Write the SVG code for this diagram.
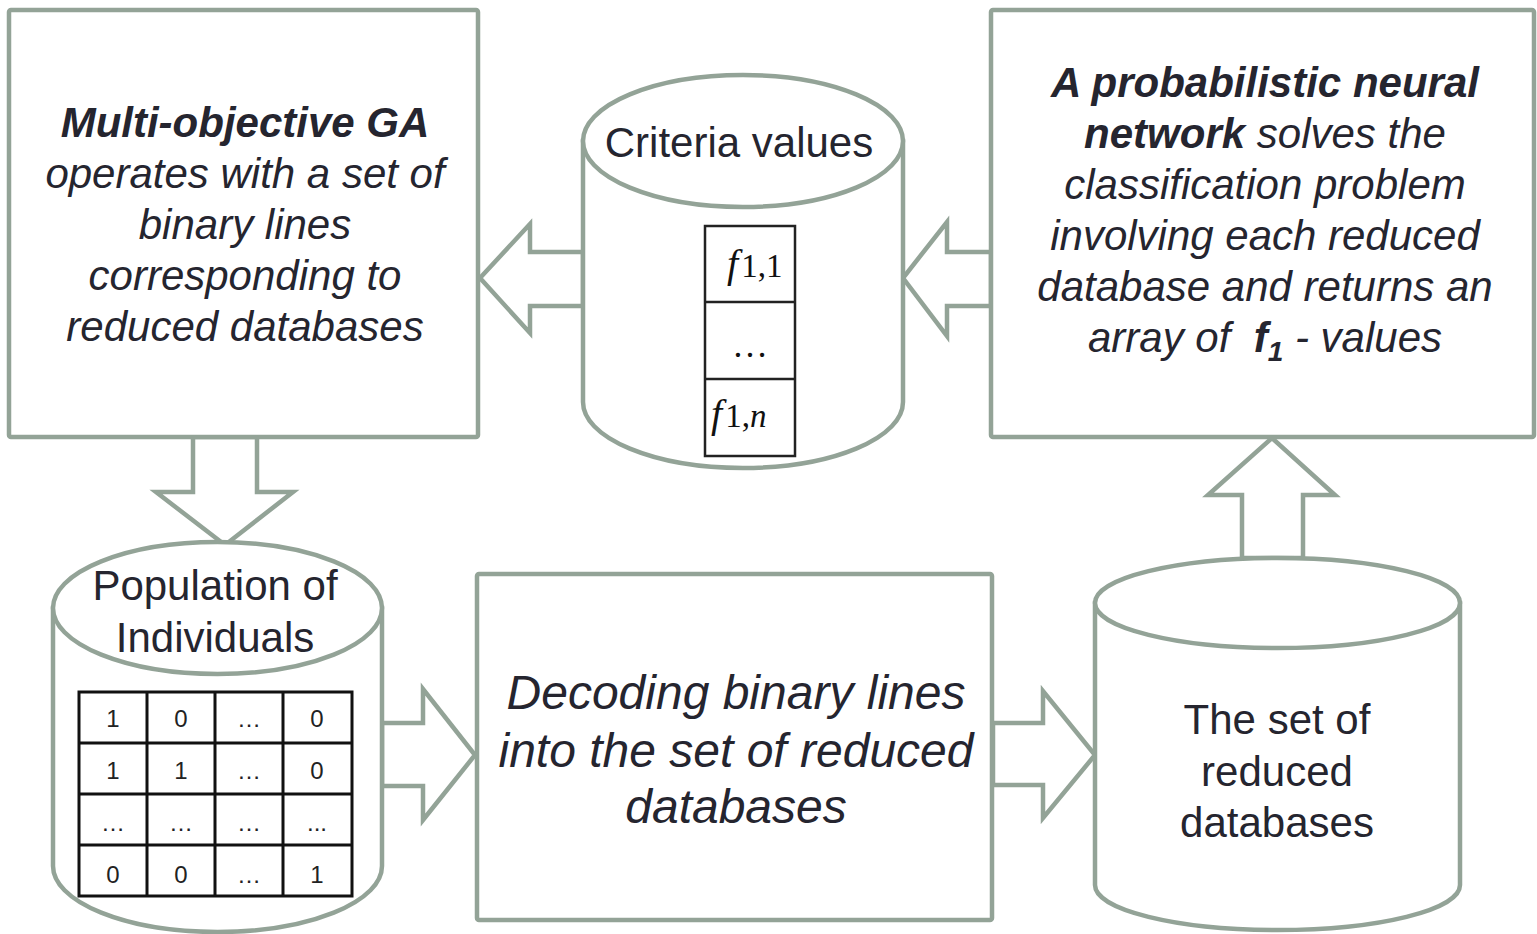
<svg xmlns="http://www.w3.org/2000/svg" width="1537" height="934" viewBox="0 0 1537 934">
<style>
.sh{fill:#fff;stroke:#93a397;stroke-width:4.5;stroke-linejoin:miter}
.t{font-family:"Liberation Sans",Arial,sans-serif;fill:#25252f;text-anchor:middle}
.i{font-style:italic}
.b{font-weight:bold}
.f42{font-size:42px}
.f48{font-size:48px}
.grid{fill:none;stroke:#111;stroke-width:3}
.cell{font-family:"Liberation Sans",Arial,sans-serif;font-size:24px;fill:#222;text-anchor:middle}
.m{font-family:"Liberation Serif","Times New Roman",serif;fill:#111}
</style>
<rect width="1537" height="934" fill="#fff"/>

<g id="connectors">
  <polygon class="sh" points="583,252 530,252 530,224 480,278 530,333 530,306 583,306"/>
  <polygon class="sh" points="991,252 947,252 947,222 903,278 947,336 947,306 991,306"/>
  <polygon class="sh" points="193,437 257,437 257,492 293,492 225,545 156,492 193,492"/>
  <polygon class="sh" points="382,723 423,723 423,689 475,755 423,820 423,786 382,786"/>
  <polygon class="sh" points="993,723 1043,723 1043,691 1095,755 1043,818 1043,785 993,785"/>
  <polygon class="sh" points="1242,558 1242,495 1208,495 1272,438 1335,495 1303,495 1303,558"/>
</g>

<g id="ga">
  <rect class="sh" x="9" y="10" width="469" height="427" rx="2"/>
  <text class="t i b f42" x="245" y="137">Multi-objective GA</text>
  <text class="t i f42" x="245" y="188">operates with a set of</text>
  <text class="t i f42" x="245" y="239">binary lines</text>
  <text class="t i f42" x="245" y="290">corresponding to</text>
  <text class="t i f42" x="245" y="341">reduced databases</text>
</g>

<g id="criteria">
  <path class="sh" d="M583,141 L583,402 A160,66 0 0 0 903,402 L903,141 Z"/>
  <ellipse class="sh" cx="743" cy="141" rx="160" ry="66"/>
  <text class="t f42" x="739" y="157">Criteria values</text>
  <rect x="705" y="226" width="90" height="230" fill="#fff" stroke="#222" stroke-width="2.5"/>
  <line x1="705" y1="302" x2="795" y2="302" stroke="#222" stroke-width="2.5"/>
  <line x1="705" y1="379" x2="795" y2="379" stroke="#222" stroke-width="2.5"/>
  <text class="m" x="727" y="277"><tspan font-style="italic" font-size="40">f</tspan><tspan font-size="33" dx="3">1,1</tspan></text>
  <text class="m" x="750" y="357" font-size="36" text-anchor="middle">…</text>
  <text class="m" x="711" y="427"><tspan font-style="italic" font-size="40">f</tspan><tspan font-size="33" dx="3">1,</tspan><tspan font-size="33" font-style="italic">n</tspan></text>
</g>

<g id="pnn">
  <rect class="sh" x="991" y="10" width="543" height="427" rx="2"/>
  <text class="t i b f42" x="1265" y="97">A probabilistic neural</text>
  <text class="t i f42" x="1265" y="148"><tspan class="b">network</tspan> solves the</text>
  <text class="t i f42" x="1265" y="199">classification problem</text>
  <text class="t i f42" x="1265" y="250">involving each reduced</text>
  <text class="t i f42" x="1265" y="301">database and returns an</text>
  <text class="t i f42" x="1265" y="352">array of &#160;<tspan class="b">f</tspan><tspan class="b" font-size="28" dy="9">1</tspan><tspan dy="-9"> - values</tspan></text>
</g>

<g id="population">
  <path class="sh" d="M53,608 L53,866 A164.5,66 0 0 0 382,866 L382,608 Z"/>
  <ellipse class="sh" cx="217.5" cy="608" rx="164.5" ry="66"/>
  <text class="t f42" x="215" y="600">Population of</text>
  <text class="t f42" x="215" y="652">Individuals</text>
  <rect x="79" y="692" width="273" height="204" fill="#fff"/>
  <path class="grid" d="M79,692H352V896H79Z M79,743H352 M79,794H352 M79,845H352 M147,692V896 M215,692V896 M283,692V896"/>
  <g class="cell">
    <text x="113" y="727">1</text><text x="181" y="727">0</text><text x="249" y="727">…</text><text x="317" y="727">0</text>
    <text x="113" y="779">1</text><text x="181" y="779">1</text><text x="249" y="779">…</text><text x="317" y="779">0</text>
    <text x="113" y="831">…</text><text x="181" y="831">…</text><text x="249" y="831">…</text><text x="317" y="831">...</text>
    <text x="113" y="883">0</text><text x="181" y="883">0</text><text x="249" y="883">…</text><text x="317" y="883">1</text>
  </g>
</g>

<g id="decoding">
  <rect class="sh" x="477" y="574" width="515" height="346" rx="2"/>
  <text class="t i f48" x="736" y="709">Decoding binary lines</text>
  <text class="t i f48" x="736" y="767">into the set of reduced</text>
  <text class="t i f48" x="736" y="823">databases</text>
</g>

<g id="reduced">
  <path class="sh" d="M1095,603 L1095,885 A182.5,45 0 0 0 1460,885 L1460,603 Z"/>
  <ellipse class="sh" cx="1277.5" cy="603" rx="182.5" ry="45"/>
  <text class="t f42" x="1277" y="734">The set of</text>
  <text class="t f42" x="1277" y="786">reduced</text>
  <text class="t f42" x="1277" y="837">databases</text>
</g>
</svg>
